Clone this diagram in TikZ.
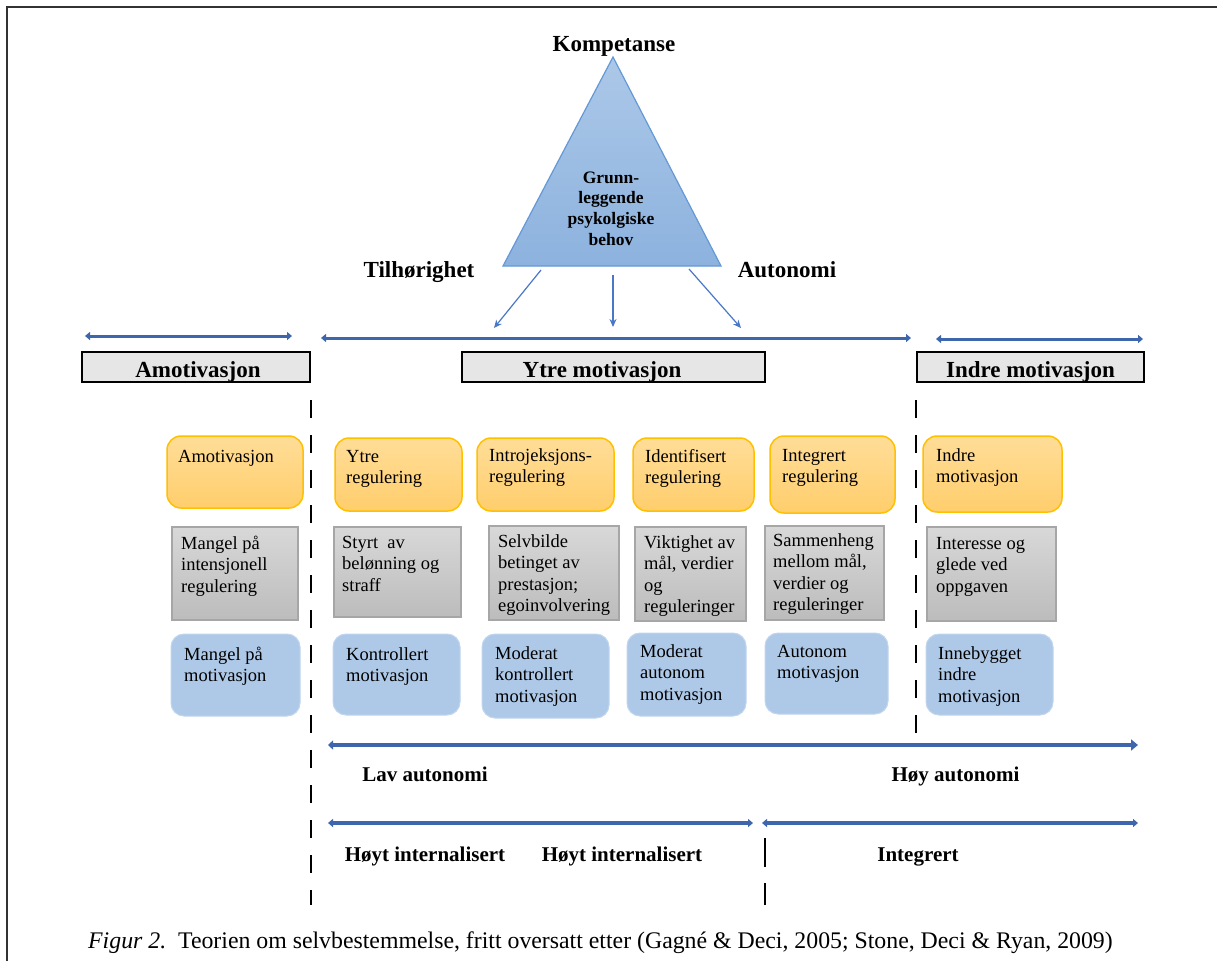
\documentclass[tikz,border=0pt]{standalone}
\usepackage{fontspec}
\setmainfont{Liberation Serif}
\usetikzlibrary{arrows.meta}
\definecolor{arrowblue}{RGB}{62,102,172}
\definecolor{thinblue}{RGB}{74,120,200}
\definecolor{orangeT}{RGB}{255,221,152}
\definecolor{orangeB}{RGB}{255,206,108}
\definecolor{orangeD}{RGB}{255,192,0}
\definecolor{grayT}{RGB}{216,216,216}
\definecolor{grayB}{RGB}{188,188,188}
\definecolor{grayD}{RGB}{166,166,166}
\definecolor{blueF}{RGB}{174,201,232}
\definecolor{blueD}{RGB}{192,213,238}
\definecolor{triT}{RGB}{172,200,232}
\definecolor{triB}{RGB}{140,178,222}
\definecolor{triD}{RGB}{100,152,214}
\definecolor{headF}{RGB}{230,230,230}
\definecolor{frameC}{RGB}{50,50,50}
\newcommand\mybox[9]{%
  \node[#1, minimum width={(#5-#3)*1pt}, minimum height={(#6-#4)*1pt}] (#2) at ({(#3+#5)/2},{(#4+#6)/2}) {};
  \node[bt, anchor=base west] (#2t) at (#7,#8) {\parbox[t]{160pt}{\raggedright #9}};
}
\begin{document}
\begin{tikzpicture}[x=1pt,y=-1pt,
  ob/.style={draw=orangeD, line width=1.5pt, rounded corners=14pt, top color=orangeT, bottom color=orangeB, inner sep=0pt},
  gb/.style={draw=grayD, line width=1.5pt, top color=grayT, bottom color=grayB, inner sep=0pt},
  bb/.style={draw=blueD, line width=1pt, rounded corners=13pt, fill=blueF, inner sep=0pt},
  hb/.style={draw=black, line width=1.5pt, fill=headF, inner sep=0pt},
  bt/.style={inner sep=0pt, font=\fontsize{18.5}{21.5}\selectfont},
  big/.style={inner sep=0pt, font=\fontsize{23}{27}\selectfont\bfseries},
  mid/.style={inner sep=0pt, font=\fontsize{21}{25}\selectfont\bfseries},
  tri/.style={inner sep=0pt, font=\fontsize{17.5}{20.7}\selectfont\bfseries},
  capt/.style={inner sep=0pt, font=\fontsize{23.8}{28}\selectfont},
  harr/.style={draw=arrowblue, line width=3pt, {Triangle[length=5pt,width=8pt]}-{Triangle[length=5pt,width=8pt]}},
  tarr/.style={draw=thinblue, line width=1.2pt, -{Stealth[length=8pt,width=7pt]}},
  dl/.style={draw=black, line width=1.5pt, dash pattern=on 18pt off 17pt},
]
\useasboundingbox (0,0) rectangle (1217,961);
\fill[white] (0,0) rectangle (1217,961);
% frame
\draw[frameC, line width=2pt] (7,961) -- (7,7) -- (1217,7);

% triangle
\coordinate (tA) at (613,57);
\coordinate (tL) at (503,266);
\coordinate (tR) at (721,266);
\shade[top color=triT, bottom color=triB, draw=triD, line width=1.2pt, line join=miter] (tA) -- (tL) -- (tR) -- cycle;
\node[tri, anchor=base] (tri) at (611,183) {\parbox[t]{140pt}{\centering Grunn-\\leggende\\psykolgiske\\behov}};

\node[big, anchor=base] (komp) at (614,51) {Kompetanse};
\node[big, anchor=base] (tilh) at (419,277) {Tilhørighet};
\node[big, anchor=base] (auto) at (787,277) {Autonomi};

% arrows from triangle
\coordinate (a1s) at (541,270); \coordinate (a1e) at (494,328);
\coordinate (a2s) at (613,275); \coordinate (a2e) at (613,327);
\coordinate (a3s) at (689,269); \coordinate (a3e) at (741,328);
\draw[tarr] (a1s) -- (a1e);
\draw[tarr] (a2s) -- (a2e);
\draw[tarr] (a3s) -- (a3e);

% header arrows
\coordinate (h1l) at (85,336); \coordinate (h1r) at (292,336);
\coordinate (h2l) at (321,338); \coordinate (h2r) at (911,338);
\coordinate (h3l) at (936,339); \coordinate (h3r) at (1143,339);
\draw[harr] (h1l) -- (h1r);
\draw[harr] (h2l) -- (h2r);
\draw[harr] (h3l) -- (h3r);

% header boxes
\node[hb, minimum width=228pt, minimum height=30pt] (hA) at (196,367) {};
\node[big, anchor=base] (hAt) at (198,377) {Amotivasjon};
\node[hb, minimum width=303pt, minimum height=30pt] (hY) at (613.5,367) {};
\node[big, anchor=base] (hYt) at (602,377) {Ytre motivasjon};
\node[hb, minimum width=227pt, minimum height=30pt] (hI) at (1030.5,367) {};
\node[big, anchor=base] (hIt) at (1030.5,377) {Indre motivasjon};

% dashed separators
\coordinate (d1t) at (311,400); \coordinate (d1b) at (311,905);
\coordinate (d2t) at (916,400); \coordinate (d2b) at (916,742);
\coordinate (d3t) at (765,838); \coordinate (d3b) at (765,905);
\draw[dl] (d1t) -- (d1b);
\draw[dl] (d2t) -- (d2b);
\draw[dl, dash pattern=on 29pt off 16pt] (d3t) -- (d3b);

% orange boxes
\mybox{ob}{o1}{167}{436}{303}{508}{178}{462}{Amotivasjon}
\mybox{ob}{o2}{335}{438}{462}{511}{346}{462}{Ytre\\regulering}
\mybox{ob}{o3}{477}{438}{614}{511}{489}{461}{Introjeksjons-\\regulering}
\mybox{ob}{o4}{633}{438}{754}{511}{645}{462}{Identifisert\\regulering}
\mybox{ob}{o5}{770}{436}{895}{513}{782}{461}{Integrert\\regulering}
\mybox{ob}{o6}{923}{436}{1062}{512}{936}{461}{Indre\\motivasjon}

% gray boxes
\mybox{gb}{g1}{172}{527}{298}{620}{181}{549}{Mangel på\\intensjonell\\regulering}
\mybox{gb}{g2}{334}{527}{461}{617}{342}{548}{Styrt\ \ av\\belønning og\\straff}
\mybox{gb}{g3}{489}{526}{619}{620}{498}{547}{Selvbilde\\betinget av\\prestasjon;\\egoinvolvering}
\mybox{gb}{g4}{635}{527}{746}{621}{644}{548}{Viktighet av\\mål, verdier\\og\\reguleringer}
\mybox{gb}{g5}{765}{526}{884}{620}{773}{546}{Sammenheng\\mellom mål,\\verdier og\\reguleringer}
\mybox{gb}{g6}{927}{527}{1056}{621}{936}{549}{Interesse og\\glede ved\\oppgaven}

% blue boxes
\mybox{bb}{b1}{171}{634}{300}{716}{184}{660}{Mangel på\\motivasjon}
\mybox{bb}{b2}{333}{634}{460}{715}{346}{660}{Kontrollert\\motivasjon}
\mybox{bb}{b3}{482}{634}{609}{718}{495}{659}{Moderat\\kontrollert\\motivasjon}
\mybox{bb}{b4}{627}{633}{746}{716}{640}{657}{Moderat\\autonom\\motivasjon}
\mybox{bb}{b5}{765}{633}{888}{714}{777}{657}{Autonom\\motivasjon}
\mybox{bb}{b6}{926}{634}{1053}{715}{938}{659}{Innebygget\\indre\\motivasjon}

% autonomy arrow
\coordinate (la) at (328,745); \coordinate (ha) at (1138,745);
\draw[draw=arrowblue, line width=4pt, {Triangle[length=5pt,width=9pt]}-{Triangle[length=7pt,width=11pt]}] (la) -- (ha);
\node[mid, anchor=base] (lav) at (425,781) {Lav autonomi};
\node[mid, anchor=base] (hoy) at (955.5,781) {Høy autonomi};

% internalisation arrows
\coordinate (i1l) at (328,823); \coordinate (i1r) at (753,823);
\coordinate (i2l) at (762,823); \coordinate (i2r) at (1138,823);
\draw[harr, line width=3.5pt] (i1l) -- (i1r);
\draw[harr, line width=3.5pt] (i2l) -- (i2r);
\node[mid, anchor=base] (hi1) at (425,861) {Høyt internalisert};
\node[mid, anchor=base] (hi2) at (622,861) {Høyt internalisert};
\node[mid, anchor=base] (intg) at (918,861) {Integrert};

% caption
\node[capt, anchor=base west] (cap) at (88,948) {\textit{Figur 2.}\ \ Teorien om selvbestemmelse, fritt oversatt etter (Gagné \& Deci, 2005; Stone, Deci \& Ryan, 2009)};
\end{tikzpicture}
\end{document}
